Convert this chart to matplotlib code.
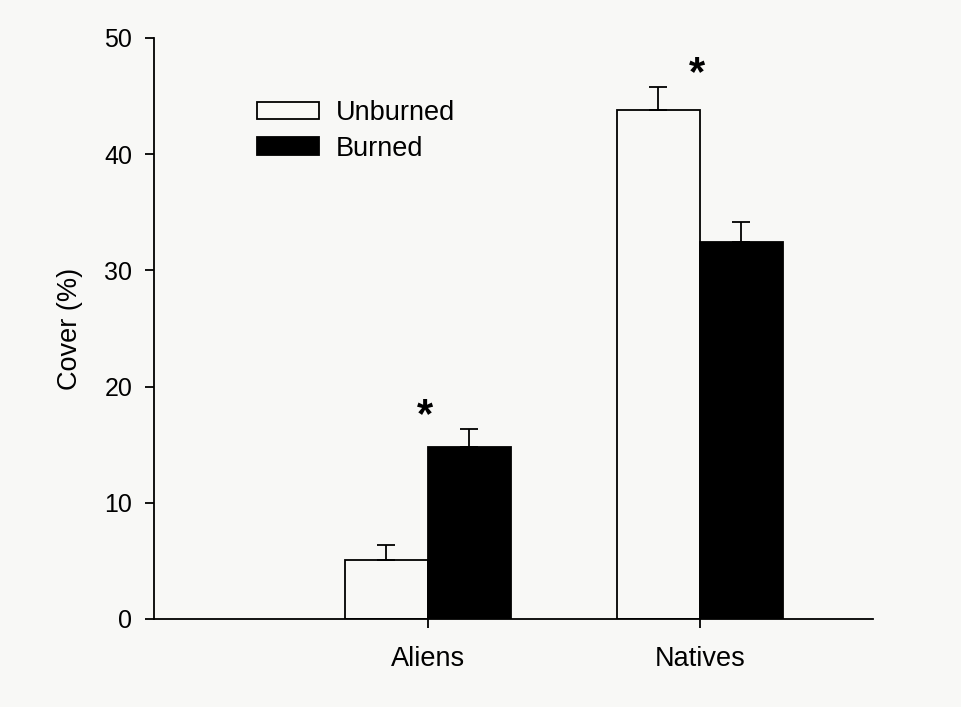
import matplotlib.pyplot as plt
import numpy as np

plt.rcParams['font.family'] = ['Liberation Sans', 'DejaVu Sans']

# Mean cover and standard errors per group
groups = ['Aliens', 'Natives']
unburned = [5.1, 43.8]
unburned_se = [1.3, 2.0]
burned = [14.8, 32.4]
burned_se = [1.55, 1.8]
significant = [True, True]
yticks = [0, 10, 20, 30, 40, 50]

bg = '#f8f8f6'
fig = plt.figure(figsize=(9.62, 7.07), dpi=100, facecolor=bg)
ax = fig.add_axes([0.160, 0.1245, 0.7475, 0.8218], facecolor=bg)

x = np.arange(len(groups))
w = 0.305

err_kw = dict(ecolor='black', elinewidth=1.3, capsize=6.5, capthick=1.3)
ax.bar(x - w / 2, unburned, w, color=bg, edgecolor='black', linewidth=1.3,
       yerr=[np.zeros(len(x)), unburned_se], error_kw=err_kw, label='Unburned')
ax.bar(x + w / 2, burned, w, color='black', edgecolor='black', linewidth=1.3,
       yerr=[np.zeros(len(x)), burned_se], error_kw=err_kw, label='Burned')

# asterisks above significant pairs
for i, sig in enumerate(significant):
    if sig:
        top = max(unburned[i] + unburned_se[i], burned[i] + burned_se[i])
        ax.text(x[i] - 0.01, top + 1.1, '*', ha='center', va='center',
                fontsize=30, fontweight='bold')

ax.set_xlim(-1.007, 1.636)
ax.set_ylim(0, 50)
ax.set_yticks(yticks)
ax.set_xticks(x)
ax.set_xticklabels(groups)

ax.spines['top'].set_visible(False)
ax.spines['right'].set_visible(False)
for s in ['left', 'bottom']:
    ax.spines[s].set_linewidth(1.3)

ax.tick_params(axis='y', direction='out', length=6.5, width=1.3, pad=9,
               labelsize=18)
ax.tick_params(axis='x', direction='out', length=6.5, width=1.3, pad=13,
               labelsize=19.5)

ax.set_ylabel('Cover (%)', fontsize=19.5)
ax.yaxis.set_label_coords(-0.098, 0.5)

ax.legend(loc='upper left', bbox_to_anchor=(257 / 962, 1 - 100 / 707),
          bbox_transform=fig.transFigure, frameon=False, fontsize=19.5,
          handlelength=2.3, handleheight=0.62, handletextpad=0.6,
          labelspacing=0.36, borderpad=0, borderaxespad=0)

fig.savefig('out.png', dpi=100, facecolor=bg)
